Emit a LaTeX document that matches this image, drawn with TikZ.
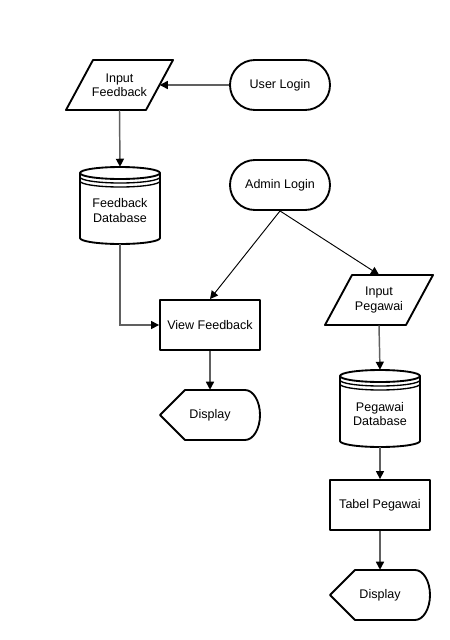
\documentclass[tikz,border=0pt]{standalone}
\usepackage{fontspec}
\setmainfont{Liberation Sans}
\usetikzlibrary{arrows.meta,shapes.misc}

\definecolor{linegray}{RGB}{96,96,96}

\begin{document}
\begin{tikzpicture}[x=0.75pt,y=-0.75pt,
  every node/.style={font=\fontsize{9.4}{10.6}\selectfont, align=center, inner sep=0pt},
  outline/.style={draw=black, line width=1.4pt, line join=round, fill=white},
  terminal/.style={outline, rounded rectangle, minimum width=75pt, minimum height=37.5pt},
  process/.style={outline, rectangle, minimum width=75pt, minimum height=37.5pt},
  slot/.style={minimum width=60pt, minimum height=37.5pt},
  dbslot/.style={minimum width=60pt, minimum height=57.75pt},
  dispslot/.style={minimum width=75pt, minimum height=37.5pt},
  flow/.style={draw=linegray, line width=1.1pt, -{Triangle[length=6pt,width=6pt,color=black]}},
  fineflow/.style={draw=black, line width=0.7pt, -{Triangle[length=6pt,width=6pt,color=black]}},
  % cylinder for stored data, origin at the top centre
  dbcyl/.pic={
    \filldraw[outline] (-40,6) -- (-40,71)
      arc[start angle=180,end angle=360,x radius=30pt,y radius=4.5pt]
      -- (40,6)
      arc[start angle=0,end angle=180,x radius=30pt,y radius=4.5pt] -- cycle;
    \draw[line width=1.4pt] (-40,6) arc[start angle=180,end angle=360,x radius=30pt,y radius=4.5pt];
    \draw[line width=1pt] (-40,10) arc[start angle=180,end angle=360,x radius=30pt,y radius=4.5pt];
    \draw[line width=1pt] (-40,14) arc[start angle=180,end angle=360,x radius=30pt,y radius=4.5pt];
  },
  % display symbol, origin at the left point
  dispshape/.pic={
    \filldraw[outline] (0,0) -- (25,-25) -- (85,-25)
      arc[start angle=90,end angle=-90,x radius=11.25pt,y radius=18.75pt]
      -- (25,25) -- cycle;
  }
]
\fill[white] (0,0) rectangle (450,640);
\useasboundingbox (0,0) rectangle (450,640);

% ---- feedback branch ----
\node[terminal] (ulogin) at (280,85) {User Login};

\draw[outline] (93,60) -- (173,60) -- (146,110) -- (66,110) -- cycle;
\node[slot] (infb) at (119.5,85) {Input\\Feedback};

\pic at (120,167) {dbcyl};
\node[dbslot] (fdb) at (120,205.5) {};
\node at (120,210.5) {Feedback\\Database};

\node[process] (vfb) at (210,325) {View Feedback};

\pic at (160,415) {dispshape};
\node[dispslot] (disp1) at (210,415) {Display};

% ---- employee branch ----
\node[terminal] (alogin) at (280,185) {Admin Login};

\draw[outline] (352,275) -- (433,275) -- (406,325) -- (325,325) -- cycle;
\node[slot] (inpg) at (379,300) {Input\\Pegawai};

\pic at (380,370) {dbcyl};
\node[dbslot] (pdb) at (380,408.5) {};
\node at (380,414) {Pegawai\\Database};

\node[process] (tpg) at (380,505) {Tabel Pegawai};

\pic at (330,595) {dispshape};
\node[dispslot] (disp2) at (380,595) {Display};

% ---- connectors ----
\draw[flow] (ulogin.west) -- (infb.east);
\draw[flow] (infb.south) -- (fdb.north);
\draw[flow] (fdb.south) |- (vfb.west);
\draw[fineflow] (alogin.south) -- (vfb.north);
\draw[fineflow] (alogin.south) -- (inpg.north);
\draw[flow] (vfb.south) -- (disp1.north);
\draw[flow] (inpg.south) -- (pdb.north);
\draw[flow] (pdb.south) -- (tpg.north);
\draw[flow] (tpg.south) -- (disp2.north);
\end{tikzpicture}
\end{document}
